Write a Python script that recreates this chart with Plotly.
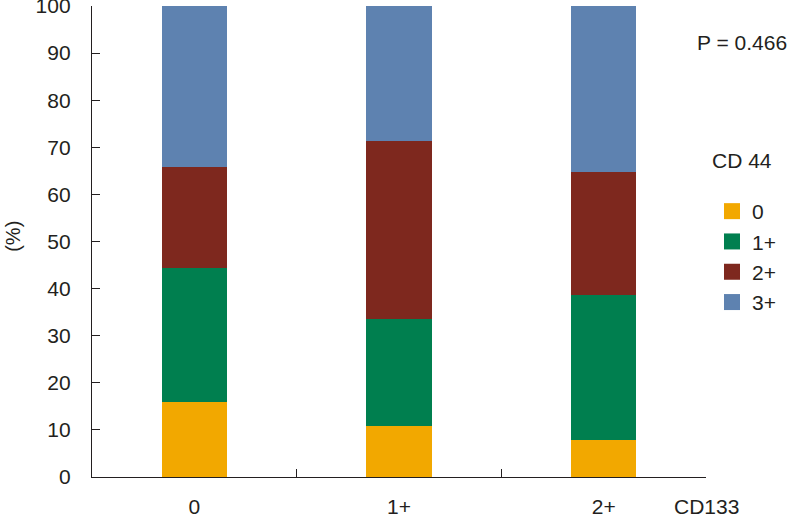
import plotly.graph_objects as go

categories = ["0", "1+", "2+"]
series_names = ["0", "1+", "2+", "3+"]
cd44_0 = [16.0, 10.9, 7.9]
cd44_1 = [28.3, 22.6, 30.7]
cd44_2 = [21.6, 37.8, 26.2]
cd44_3 = [34.1, 28.7, 35.2]
colors = ["#F2A800", "#007F4F", "#7E281E", "#5E82B0"]
yticks = list(range(0, 101, 10))

FONT = "Liberation Sans, Arial, sans-serif"
TXT = "#231F20"

fig = go.Figure()
for name, vals, col in zip(series_names, [cd44_0, cd44_1, cd44_2, cd44_3], colors):
    fig.add_trace(go.Bar(x=categories, y=vals, name=name, marker=dict(color=col, line=dict(width=0)),
                         showlegend=False))
    fig.add_trace(go.Scatter(x=[None], y=[None], mode="markers", name=name,
                             marker=dict(symbol="square", size=16, color=col)))

fig.update_layout(
    width=791, height=520,
    margin=dict(l=92, r=85, t=6, b=43, autoexpand=False),
    barmode="stack", bargap=0.68,
    plot_bgcolor="white", paper_bgcolor="white",
    font=dict(family=FONT, size=20, color=TXT),
    legend=dict(x=(712 - 92) / 614, xref="paper", y=1 - 185 / 471, yref="paper",
                xanchor="left", yanchor="top",
                traceorder="normal", font=dict(size=21), bgcolor="rgba(0,0,0,0)",
                itemclick=False),
)
fig.update_xaxes(type="category", categoryorder="array", categoryarray=categories,
                 range=[-0.5, 2.5], tickson="boundaries", ticks="inside", ticklen=8,
                 tickcolor=TXT, tickwidth=1.3, showline=True, linecolor=TXT, linewidth=1.3,
                 showgrid=False, zeroline=False, ticklabelstandoff=11,
                 tickfont=dict(size=21, family=FONT, color=TXT))
fig.update_yaxes(range=[0, 100], tickvals=yticks, ticks="inside", ticklen=8,
                 tickcolor=TXT, tickwidth=1.3, showline=True, linecolor=TXT, linewidth=1.3,
                 showgrid=False, zeroline=False, ticklabelstandoff=16, ticklabeloverflow="allow",
                 tickfont=dict(size=21, family=FONT, color=TXT))

fig.add_annotation(text="(%)", xref="paper", yref="paper", x=0, y=0.51, xshift=-79,
                   xanchor="center", yanchor="middle",
                   textangle=-90, showarrow=False, font=dict(size=20, family=FONT, color=TXT))
fig.add_annotation(text="CD133", xref="paper", yref="paper", x=1, y=-29 / 471,
                   xanchor="center", yanchor="middle", showarrow=False,
                   font=dict(size=21, family=FONT, color=TXT))
fig.add_annotation(text="P = 0.466", xref="paper", yref="paper", x=(742 - 92) / 614, y=1 - 37 / 471,
                   xanchor="center", yanchor="middle", showarrow=False,
                   font=dict(size=21, family=FONT, color=TXT))
fig.add_annotation(text="CD 44", xref="paper", yref="paper", x=(742 - 92) / 614, y=1 - 155 / 471,
                   xanchor="center", yanchor="middle", showarrow=False,
                   font=dict(size=21, family=FONT, color=TXT))

fig.write_html("out.html", config={"displayModeBar": False},
               post_script="document.body.style.margin='0';")
